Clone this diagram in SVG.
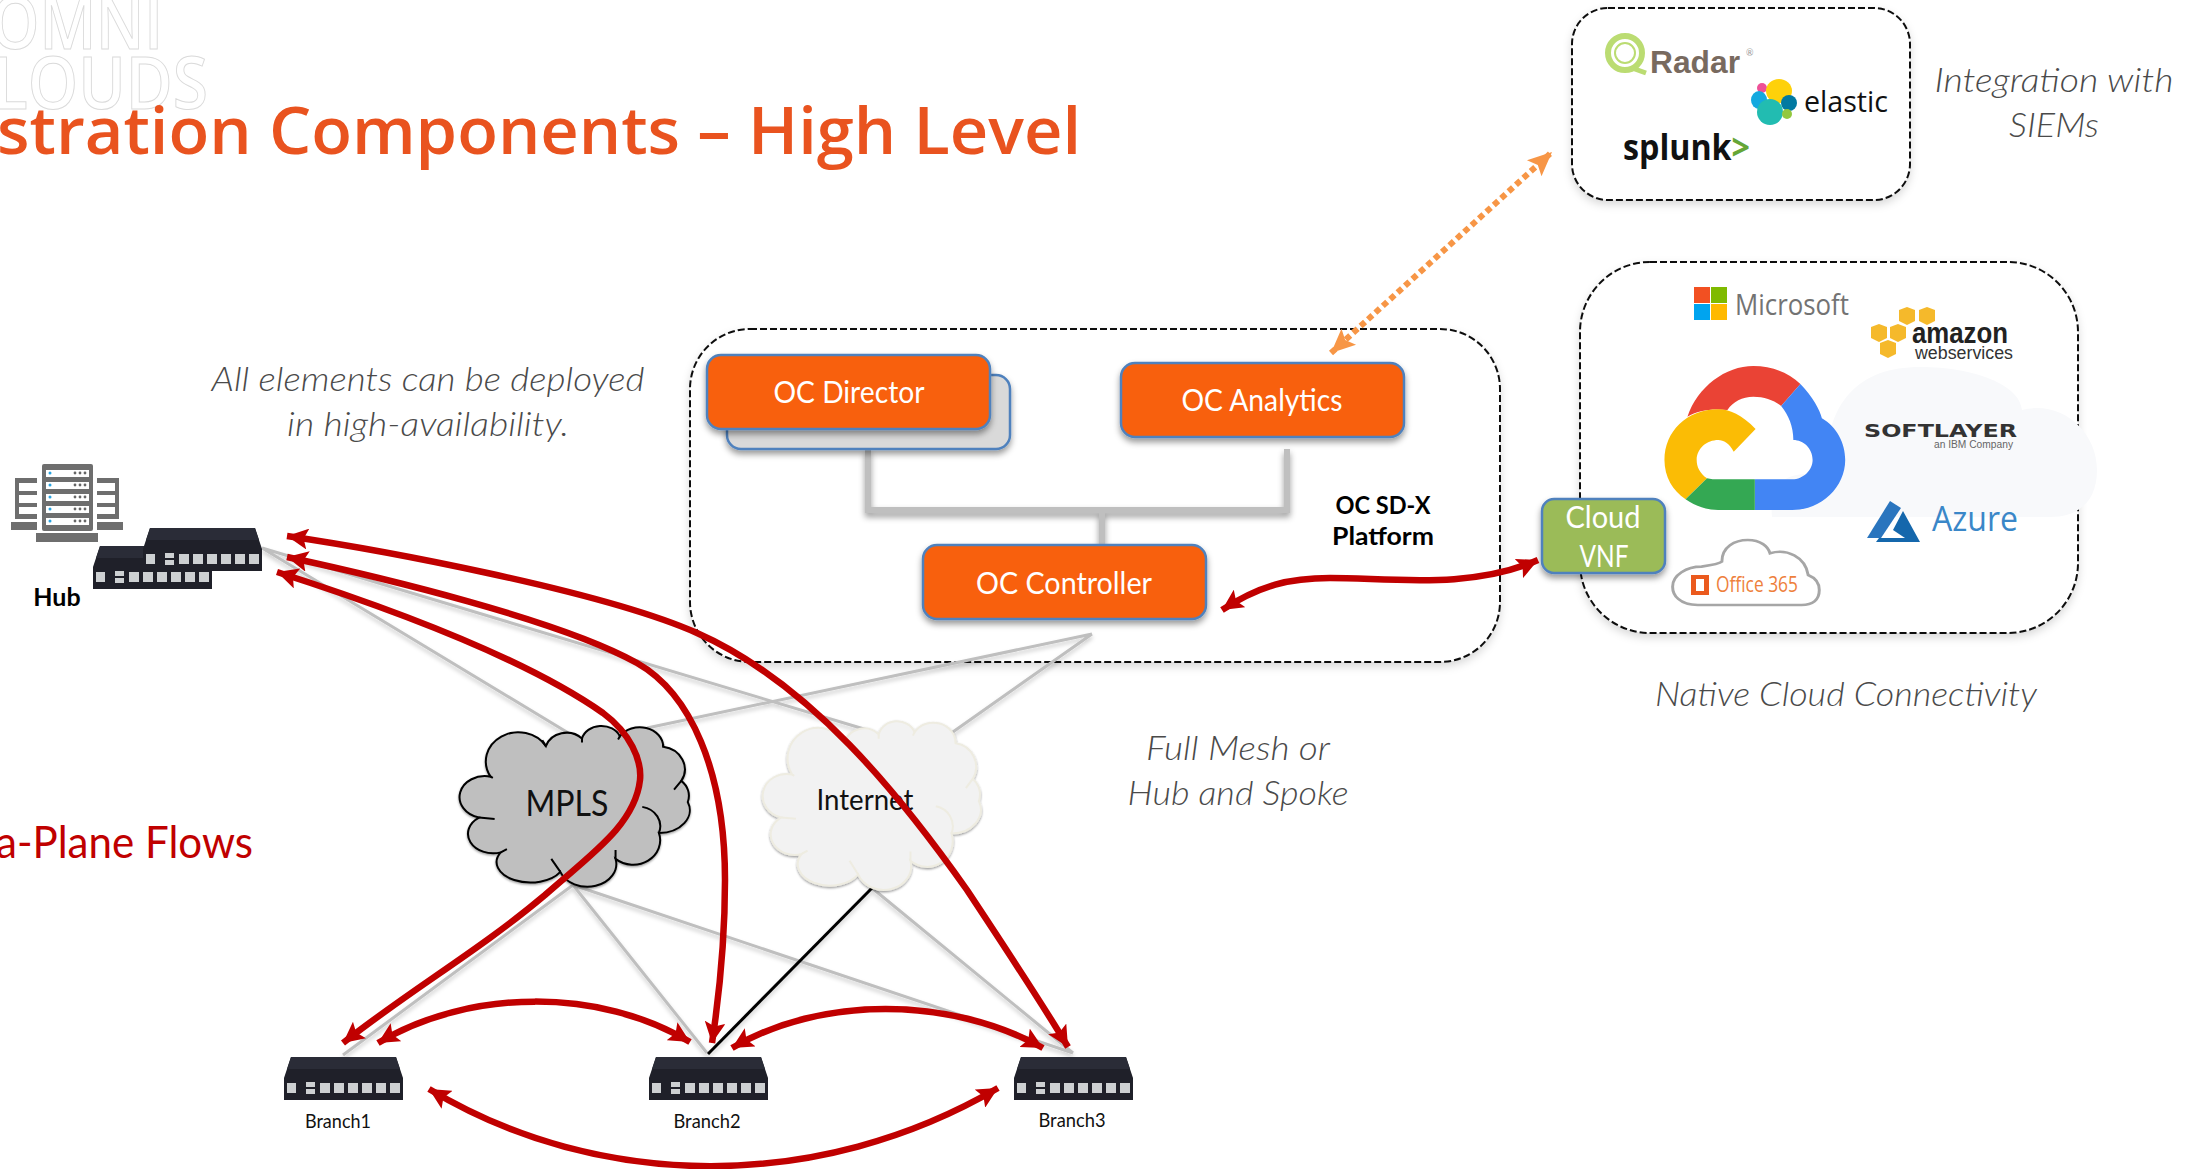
<svg xmlns="http://www.w3.org/2000/svg" xmlns:xlink="http://www.w3.org/1999/xlink" width="2192" height="1169" viewBox="0 0 2192 1169">
<style>
text{font-family:"Lato","Open Sans","Liberation Sans",sans-serif}
.note{font-size:34px;font-style:italic;font-weight:300;fill:#4A4A4A;text-anchor:middle}
.oc{fill:#F8610D;stroke:#4F81BD;stroke-width:2.5;filter:url(#sh)}
.octx{font-size:30px;fill:#fff;font-weight:400;text-anchor:middle}
.dash{fill:#fff;stroke:#111;stroke-width:2;stroke-dasharray:7 3;filter:url(#soft)}
.bold{font-weight:700;font-size:25px;fill:#000;text-anchor:middle}
.br{font-size:19px;fill:#111;text-anchor:middle}
.g{fill:none;stroke:#BFBFBF;stroke-width:3}
.r{fill:none;stroke:#C00000;stroke-width:6.5;marker-start:url(#ah);marker-end:url(#ah)}
.bar{fill:none;stroke:#BFBFBF;stroke-width:6}
.srv{fill:#6E6E6E}
.slot{fill:#fff}
.pt{fill:#CDD0D2}
</style>
<defs>
<filter id="sh" x="-10%" y="-20%" width="120%" height="150%"><feDropShadow dx="0" dy="4" stdDeviation="3" flood-color="#000" flood-opacity=".4"/></filter>
<filter id="soft" x="-5%" y="-5%" width="110%" height="115%"><feDropShadow dx="0" dy="4" stdDeviation="4" flood-color="#000" flood-opacity=".15"/></filter>
<filter id="ln" x="-5%" y="-5%" width="110%" height="110%"><feDropShadow dx="0" dy="3" stdDeviation="2" flood-color="#000" flood-opacity=".2"/></filter>
<marker id="ah" viewBox="0 0 10 10" refX="10" refY="5" markerUnits="userSpaceOnUse" markerWidth="21" markerHeight="21" orient="auto-start-reverse"><path d="M0,0L10,5L0,10L2,5Z" fill="#C00000"/></marker>
<marker id="oh" viewBox="0 0 10 10" refX="10" refY="5" markerUnits="userSpaceOnUse" markerWidth="24" markerHeight="24" orient="auto-start-reverse"><path d="M0,0.5L10,5L0,9.5L2,5Z" fill="#F79646"/></marker>
<path id="cloudshape" vector-effect="non-scaling-stroke" d="M132,242A85,85 0 0 1 285,148A60,60 0 0 1 385,125A55,50 0 0 1 490,118A65,60 0 0 1 610,150A70,70 0 0 1 660,255A60,60 0 0 1 678,320A85,70 0 0 1 598,415A75,75 0 0 1 478,495A80,70 0 0 1 325,535A90,60 0 0 1 160,475A70,60 0 0 1 100,368A65,60 0 0 1 132,242Z"/>
<path id="cloudin" vector-effect="non-scaling-stroke" fill="none" d="M132,242l6,4M143,372L100,368M160,475l17,-10M300,495L325,535M478,468V495M552,335A60,60 0 0 1 598,415M640,282L660,255M610,150v-8M485,128l5,-10M385,125v12M275,130l10,18"/>
<g id="device">
<path d="M7,0H112L119,21V43H0V21Z" fill="#1F2029"/>
<path d="M7,0H112L116,12H3Z" fill="#2A2C37"/>
<rect x="3" y="26" width="9" height="10" class="pt"/>
<rect x="22" y="25" width="9" height="5" class="pt"/><rect x="22" y="32" width="9" height="5" class="pt"/>
<rect x="36" y="26" width="10" height="10" class="pt"/><rect x="50" y="26" width="10" height="10" class="pt"/><rect x="64" y="26" width="10" height="10" class="pt"/><rect x="78" y="26" width="10" height="10" class="pt"/><rect x="92" y="26" width="10" height="10" class="pt"/><rect x="106" y="26" width="10" height="10" class="pt"/>
</g>
<polygon id="cube" points="8,0 16,3 16,14 8,18 0,14 0,3" fill="#F5B92B"/>
</defs>
<rect width="2192" height="1169" fill="#fff"/>

<g id="logo" fill="#fff" stroke="#DADADA" stroke-width="1" font-weight="600" font-size="72">
<text x="163" y="49" text-anchor="end" style="font-family:'Open Sans',sans-serif" textLength="172" lengthAdjust="spacingAndGlyphs">OMNI</text>
<text x="208" y="109" text-anchor="end" style="font-family:'Open Sans',sans-serif" textLength="215" lengthAdjust="spacingAndGlyphs">LOUDS</text>
</g>
<g id="title"><text x="-3" y="154" style="font-family:'Open Sans',sans-serif;font-weight:600;font-size:66px;fill:#E9531F" textLength="1084" lengthAdjust="spacingAndGlyphs">stration Components – High Level</text></g>
<g id="subtitle"><text x="-4" y="858" style="font-size:44px;fill:#C00000" textLength="257" lengthAdjust="spacingAndGlyphs">a-Plane Flows</text></g>

<g id="platform-box"><rect x="690" y="329" width="810" height="333" rx="60" class="dash"/></g>
<g id="siem-box"><rect x="1572" y="8" width="338" height="192" rx="36" class="dash"/></g>
<g id="cloud-box"><rect x="1580" y="262" width="498" height="371" rx="70" class="dash"/></g>

<g id="notes">
<text class="note" x="428" y="391" textLength="433" lengthAdjust="spacingAndGlyphs">All elements can be deployed</text>
<text class="note" x="428" y="436" textLength="282" lengthAdjust="spacingAndGlyphs">in high-availability.</text>
<text class="note" x="2054" y="92" textLength="239" lengthAdjust="spacingAndGlyphs">Integration with</text>
<text class="note" x="2054" y="137" textLength="90" lengthAdjust="spacingAndGlyphs">SIEMs</text>
<text class="note" x="1846" y="706" textLength="382" lengthAdjust="spacingAndGlyphs">Native Cloud Connectivity</text>
<text class="note" x="1238" y="760" textLength="184" lengthAdjust="spacingAndGlyphs">Full Mesh or</text>
<text class="note" x="1238" y="805" textLength="221" lengthAdjust="spacingAndGlyphs">Hub and Spoke</text>
</g>

<g id="connectors">
<g filter="url(#ln)"><path class="g" d="M262,548L575,737M262,548L874,732M1092,634L647,728M1092,634L950,734M573,885L343,1055M573,885L707,1053M573,885L1073,1053M872,888L1073,1053"/>
<path fill="none" stroke="#000" stroke-width="3" d="M872,888L708,1054"/></g>
<g filter="url(#sh)"><path class="bar" d="M868,449V510H1287V449"/><path class="bar" d="M1102,510V545"/></g>
</g>

<g id="mpls-cloud">
<g transform="translate(443,698) scale(.361,.325)" filter="url(#sh)"><use xlink:href="#cloudshape" href="#cloudshape" fill="#BFBFBF" stroke="#000" stroke-width="2"/><use xlink:href="#cloudin" href="#cloudin" stroke="#000" stroke-width="2"/></g>
<text x="567" y="816" text-anchor="middle" font-size="36" fill="#111" textLength="83" lengthAdjust="spacingAndGlyphs">MPLS</text>
</g>
<g id="internet-cloud">
<g transform="translate(747,692) scale(.342,.341)" filter="url(#sh)"><use xlink:href="#cloudshape" href="#cloudshape" fill="#F2F2F2" stroke="#EEECE1" stroke-width="2"/><use xlink:href="#cloudin" href="#cloudin" stroke="#EEECE1" stroke-width="2"/></g>
<text x="865" y="810" text-anchor="middle" font-size="28" fill="#111" textLength="97" lengthAdjust="spacingAndGlyphs">Internet</text>
</g>

<g id="hub-server">
<rect class="srv" x="42" y="464" width="51" height="67" rx="2"/>
<rect class="slot" x="46" y="470" width="43" height="7"/><rect class="slot" x="46" y="482" width="43" height="7"/><rect class="slot" x="46" y="494" width="43" height="7"/><rect class="slot" x="46" y="506" width="43" height="7"/><rect class="slot" x="46" y="518" width="43" height="7"/>
<path class="srv" d="M15,478H37V483H19V491H37V495H19V503H37V507H19V514H37V519H15Z"/>
<path class="srv" d="M119,478H97V483H115V491H97V495H115V503H97V507H115V514H97V519H119Z"/>
<rect class="srv" x="11" y="522" width="26" height="8"/><rect class="srv" x="97" y="522" width="26" height="8"/><rect class="srv" x="36" y="533" width="62" height="9"/>
<g fill="#29A3E0"><circle cx="50" cy="473" r="1.5"/><circle cx="50" cy="485" r="1.5"/><circle cx="50" cy="497" r="1.5"/><circle cx="50" cy="509" r="1.5"/><circle cx="50" cy="521" r="1.5"/></g>
<g fill="#666"><circle cx="75" cy="473" r="1.4"/><circle cx="80" cy="473" r="1.4"/><circle cx="85" cy="473" r="1.4"/><circle cx="75" cy="485" r="1.4"/><circle cx="80" cy="485" r="1.4"/><circle cx="85" cy="485" r="1.4"/><circle cx="75" cy="497" r="1.4"/><circle cx="80" cy="497" r="1.4"/><circle cx="85" cy="497" r="1.4"/><circle cx="75" cy="509" r="1.4"/><circle cx="80" cy="509" r="1.4"/><circle cx="85" cy="509" r="1.4"/><circle cx="75" cy="521" r="1.4"/><circle cx="80" cy="521" r="1.4"/><circle cx="85" cy="521" r="1.4"/></g>
</g>
<g id="hub">
<use href="#device" x="93" y="546"/>
<use href="#device" x="143" y="528"/>
<text class="bold" x="57" y="606">Hub</text>
</g>
<g id="branch1"><use href="#device" x="284" y="1057"/><text class="br" x="338" y="1128" textLength="66" lengthAdjust="spacingAndGlyphs">Branch1</text></g>
<g id="branch2"><use href="#device" x="649" y="1057"/><text class="br" x="707" y="1128" textLength="67" lengthAdjust="spacingAndGlyphs">Branch2</text></g>
<g id="branch3"><use href="#device" x="1014" y="1057"/><text class="br" x="1072" y="1127" textLength="67" lengthAdjust="spacingAndGlyphs">Branch3</text></g>

<g id="oc-director-backup"><rect class="oc" style="fill:#D9D9D9" x="727" y="375" width="283" height="74" rx="14"/></g>
<g id="oc-director"><rect class="oc" x="707" y="355" width="283" height="74" rx="14"/><text class="octx" x="849" y="403" textLength="151" lengthAdjust="spacingAndGlyphs">OC Director</text></g>
<g id="oc-analytics"><rect class="oc" x="1121" y="363" width="283" height="74" rx="14"/><text class="octx" x="1262" y="411" textLength="161" lengthAdjust="spacingAndGlyphs">OC Analytics</text></g>
<g id="oc-controller"><rect class="oc" x="923" y="545" width="283" height="74" rx="14"/><text class="octx" x="1064" y="594" textLength="176" lengthAdjust="spacingAndGlyphs">OC Controller</text></g>
<g id="platform-label"><text class="bold" x="1383" y="514" textLength="95" lengthAdjust="spacingAndGlyphs">OC SD-X</text><text class="bold" x="1383" y="545" textLength="102" lengthAdjust="spacingAndGlyphs">Platform</text></g>

<g id="siem-logos">
<g fill="none" stroke="#BBDC72"><circle cx="1625" cy="53" r="17" stroke-width="6"/><circle cx="1625" cy="53" r="10" stroke-width="2"/><path stroke-width="5" d="M1632,68L1646,73"/></g>
<text x="1650" y="73" style="font-family:'Liberation Sans',sans-serif;font-weight:700;font-size:32px;fill:#786A5F" textLength="90" lengthAdjust="spacingAndGlyphs">Radar</text>
<text x="1746" y="56" style="font-size:9px;fill:#999">®</text>
<circle cx="1762" cy="88" r="5" fill="#EE5097"/><ellipse cx="1779" cy="91" rx="13" ry="12" fill="#FED10A"/><ellipse cx="1759" cy="100" rx="8" ry="9" style="fill:#14A9DF"/><ellipse cx="1789" cy="103" rx="8" ry="8" fill="#0179A1"/><ellipse cx="1770" cy="112" rx="13" ry="13" fill="#22BCB1"/><circle cx="1787" cy="114" r="5" fill="#93C83E"/>
<text x="1804" y="112" style="font-family:'Open Sans',sans-serif;font-size:30px;fill:#111" textLength="84" lengthAdjust="spacingAndGlyphs">elastic</text>
<text x="1623" y="160" style="font-family:'Open Sans',sans-serif;font-weight:700;font-size:35px;fill:#111" textLength="127" lengthAdjust="spacingAndGlyphs">splunk<tspan fill="#65A637">&gt;</tspan></text>
</g>

<g id="cloud-logos">
<path fill="#F8F9FB" d="M1772,517C1768,480 1790,470 1825,475C1825,400 1860,367 1920,367C1975,367 2020,385 2022,410C2060,400 2097,430 2097,470C2097,500 2080,517 2050,517Z"/>
<rect x="1694" y="287" width="16" height="16" fill="#F25022"/><rect x="1711" y="287" width="16" height="16" fill="#7FBA00"/><rect x="1694" y="304" width="16" height="16" fill="#00A4EF"/><rect x="1711" y="304" width="16" height="16" fill="#FFB900"/>
<text x="1735" y="315" style="font-family:'Open Sans',sans-serif;font-size:30px;fill:#737373" textLength="114" lengthAdjust="spacingAndGlyphs">Microsoft</text>
<use href="#cube" x="1899" y="307"/><use href="#cube" x="1919" y="307"/><use href="#cube" x="1871" y="324"/><use href="#cube" x="1890" y="324"/><use href="#cube" x="1880" y="340"/>
<text x="1912" y="343" style="font-family:'Liberation Sans',sans-serif;font-weight:700;font-size:30px;fill:#222" textLength="96" lengthAdjust="spacingAndGlyphs">amazon</text>
<text x="1915" y="359" style="font-family:'Liberation Sans',sans-serif;font-size:18px;fill:#333" textLength="98" lengthAdjust="spacingAndGlyphs">webservices</text>
<g transform="translate(1520,250) scale(.3704,.3333)">
<path fill="#EA4335" d="M452,500C480,410 555,348 630,348C680,348 725,368 757,402L705,468C685,450 660,440 630,440C600,440 575,455 560,480C520,475 480,480 452,500Z"/>
<path fill="#4285F4" d="M757,402C790,440 810,480 815,505C855,530 878,580 878,630C878,710 815,780 735,780L634,780L634,688L735,688C765,688 790,660 790,630C790,595 765,570 738,570C738,530 725,495 705,468Z"/>
<path fill="#FBBC05" d="M636,537C600,495 565,478 535,478C450,478 390,545 390,630C390,680 412,722 447,748L505,685C485,670 477,650 477,630C477,595 505,570 535,570C550,570 565,580 577,605Z"/>
<path fill="#34A853" d="M447,748C475,770 505,780 535,780L634,780L634,688L535,688C525,688 515,688 505,685Z"/>
<path fill="#fff" stroke="#A6A6A6" stroke-width="8" d="M480,1065C430,1065 412,1035 412,1010C412,975 450,950 490,950C520,945 540,940 545,935C545,890 580,870 615,870C650,870 670,890 675,910C720,895 770,920 778,975C800,985 808,1000 808,1020C808,1050 790,1065 760,1065Z"/>
</g>
<rect x="1691" y="575" width="18" height="20" fill="#EB5A1E"/><rect x="1696" y="579" width="8" height="12" fill="#fff"/>
<text x="1716" y="592" style="font-family:'Open Sans',sans-serif;font-size:21px;fill:#EE7F3C" textLength="82" lengthAdjust="spacingAndGlyphs">Office 365</text>
<text x="1864" y="437" style="font-family:'DejaVu Sans',sans-serif;font-weight:700;font-size:18px;fill:#333" textLength="153" lengthAdjust="spacingAndGlyphs">SOFTLAYER</text>
<text x="1934" y="448" style="font-family:'Liberation Sans',sans-serif;font-size:10px;fill:#666" textLength="79" lengthAdjust="spacingAndGlyphs">an IBM Company</text>
<path fill="#2A75BE" d="M1890,501L1867,538H1881L1901,508Z"/><path fill="#1467AC" d="M1903,511L1893,530L1905,538H1879L1876,542H1920Z"/>
<text x="1932" y="531" style="font-family:'Open Sans',sans-serif;font-size:35px;fill:#3A87C8" textLength="86" lengthAdjust="spacingAndGlyphs">Azure</text>
</g>

<g id="cloud-vnf"><rect class="oc" style="fill:#9BBB59" x="1542" y="499" width="123" height="74" rx="12"/><text class="octx" x="1603" y="528" textLength="75" lengthAdjust="spacingAndGlyphs">Cloud</text><text class="octx" x="1604" y="567" textLength="49" lengthAdjust="spacingAndGlyphs">VNF</text></g>

<g id="flows">
<path fill="none" stroke="#F79646" stroke-width="6" stroke-dasharray="6 4" marker-start="url(#oh)" marker-end="url(#oh)" d="M1331,353L1552,152"/>
<path class="r" d="M287,536C375,549 600,590 697,633C810,683 900,795 967,890C1000,940 1040,1000 1068,1047"/>
<path class="r" d="M287,557C380,577 560,620 637,663C690,693 725,770 725,880C725,940 720,990 712,1043"/>
<path class="r" d="M277,572C380,605 520,655 603,713C630,733 642,760 640,780C635,825 590,855 545,895C480,950 410,990 343,1043"/>
<path class="r" d="M378,1043C470,988 600,988 690,1042"/>
<path class="r" d="M732,1048C820,996 950,996 1043,1048"/>
<path class="r" d="M429,1089C600,1192 820,1192 998,1088"/>
<path class="r" d="M1222,610C1260,585 1290,578 1330,578C1390,578 1470,590 1538,560"/>
</g>
</svg>
